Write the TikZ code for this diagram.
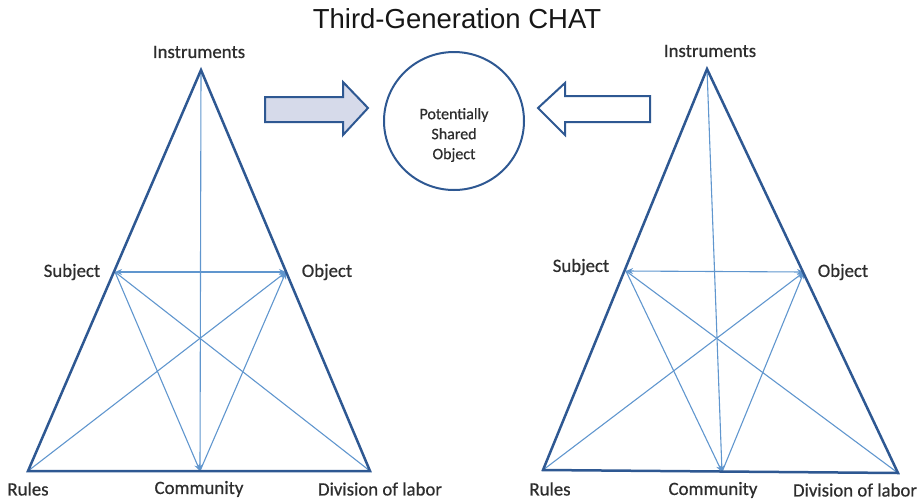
\documentclass[tikz,border=0pt]{standalone}
\usepackage{fontspec}
\setmainfont{Carlito}
\newfontfamily\lblfont[FakeBold=0.6]{Carlito}
\newfontfamily\titlefont{Liberation Sans}
\usetikzlibrary{arrows.meta}
\definecolor{edgeblue}{RGB}{46,88,146}
\definecolor{linkblue}{RGB}{96,150,206}
\definecolor{labelgrey}{RGB}{45,45,45}
\definecolor{arrowfill}{RGB}{214,218,234}
\tikzset{
  tri/.style={draw=edgeblue, line width=2.5pt, line join=miter},
  link/.style={draw=linkblue, line width=1.1pt},
  tip/.style={-{Stealth[length=7pt,width=6pt]}},
  bothtips/.style={{Stealth[length=7pt,width=6pt]}-{Stealth[length=7pt,width=6pt]}},
  lbl/.style={text=labelgrey, font=\lblfont\fontsize{18.8}{20}\selectfont, inner sep=0pt},
  blockarrow/.style={draw=edgeblue, line width=2pt, line join=miter},
}
\begin{document}
\begin{tikzpicture}[x=1pt,y=-1pt]
\useasboundingbox (0,0) rectangle (921,501);

% title
\node[font=\titlefont\fontsize{27.5}{30}\selectfont, text={rgb,255:red,22;green,22;blue,22}, inner sep=0pt] (title) at (457,19) {Third-Generation CHAT};

% ---------- left activity system ----------
\coordinate (LI) at (201,70);
\coordinate (LR) at (28,471);
\coordinate (LD) at (370,471);
\coordinate (LS) at (115,272);
\coordinate (LO) at (286,272);
\coordinate (LC) at (200,471);

\draw[link, bothtips] (LS) -- (LO);
\draw[link, tip] (LI) -- (LC);
\draw[link, tip] (LS) -- (LC);
\draw[link, tip] (LC) -- (LO);
\draw[link, tip] (LR) -- (LO);
\draw[link] (LS) -- (LD);
\draw[tri] (LI) -- (LR) -- (LD) -- cycle;

\node[lbl] (lInstr) at (199,52) {Instruments};
\node[lbl] (lSubj) at (72,272) {Subject};
\node[lbl] (lObj) at (327,272) {Object};
\node[lbl] (lRules) at (28,489) {Rules};
\node[lbl] (lComm) at (199,489) {Community};
\node[lbl] (lDiv) at (380,489) {Division of labor};

% ---------- right activity system ----------
\coordinate (RI) at (707,69);
\coordinate (RR) at (543,470);
\coordinate (RD) at (898,473);
\coordinate (RS) at (626,271);
\coordinate (RO) at (804,272);
\coordinate (RC) at (722,472);

\draw[link, bothtips] (RS) -- (RO);
\draw[link, tip] (RI) -- (RC);
\draw[link, tip] (RS) -- (RC);
\draw[link, tip] (RC) -- (RO);
\draw[link, tip] (RR) -- (RO);
\draw[link] (RS) -- (RD);
\draw[tri] (RI) -- (RR) -- (RD) -- cycle;

\node[lbl] (rInstr) at (710,51) {Instruments};
\node[lbl] (rSubj) at (581,267) {Subject};
\node[lbl] (rObj) at (843,272) {Object};
\node[lbl] (rRules) at (550,489) {Rules};
\node[lbl] (rComm) at (713,490) {Community};
\node[lbl] (rDiv) at (855,490) {Division of labor};

% ---------- shared object ----------
\draw[edgeblue, line width=2pt] (454,121) ellipse [x radius=70, y radius=69];
\node[text=labelgrey, align=center, font=\lblfont\fontsize{16}{20}\selectfont, inner sep=0pt] (shared) at (454,135) {Potentially\\Shared\\Object};

% block arrows pointing at the shared object
\draw[blockarrow, fill=arrowfill]
  (265,97) -- (343,97) -- (343,82) -- (368,108) -- (343,135) -- (343,122) -- (265,122) -- cycle;
\draw[blockarrow, fill=white]
  (650,96) -- (565,96) -- (565,83) -- (538,108) -- (565,135) -- (565,122) -- (650,122) -- cycle;

\end{tikzpicture}
\end{document}
